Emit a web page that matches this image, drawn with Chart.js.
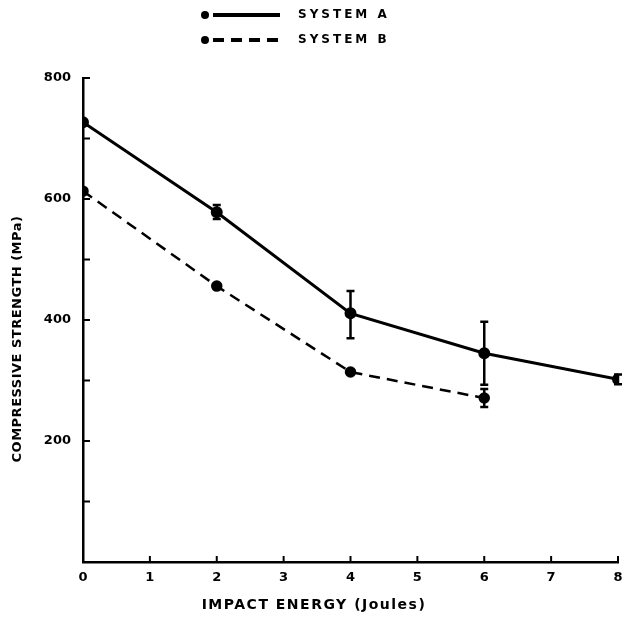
<!DOCTYPE html>
<html>
<head>
<meta charset="utf-8">
<script src="https://cdn.jsdelivr.net/npm/chart.js@4/dist/chart.umd.min.js"></script>
<style>
  body { margin: 0; background: #fff; }
  #wrap { width: 622px; height: 618px; }
</style>
</head>
<body>
<div id="wrap"><canvas id="myChart" width="622" height="618"></canvas></div>
<script>
const energy = [0, 2, 4, 6, 8];
const systemA = [727, 578, 411, 345, 302];
const systemB = [613, 456, 314, 271];
// error bar ends (low / high), null where no bar
const systemALow = [null, 567, 370, 293, 294];
const systemAHigh = [null, 590, 448, 397, 310];
const systemBLow = [null, null, null, 256];
const systemBHigh = [null, null, null, 286];
const yTickLabels = [200, 400, 600, 800];
const xTitle = 'IMPACT ENERGY (Joules)';
const yTitle = 'COMPRESSIVE STRENGTH (MPa)';

const FONT = '"DejaVu Sans", sans-serif';

const toPoints = (ys) => ys.map((y, i) => ({ x: energy[i], y }));

const drawExtras = {
    id: 'drawExtras',
    afterDatasetsDraw(chart) {
        const { ctx, scales: { x, y }, chartArea } = chart;
        ctx.save();
        ctx.strokeStyle = '#000';
        ctx.fillStyle = '#000';
        ctx.lineWidth = 2;
        // inward tick marks
        for (let v = 100; v <= 800; v += 100) {
            const py = y.getPixelForValue(v);
            ctx.beginPath();
            ctx.moveTo(chartArea.left, py);
            ctx.lineTo(chartArea.left + 7, py);
            ctx.stroke();
        }
        for (let v = 1; v <= 8; v++) {
            const px = x.getPixelForValue(v);
            ctx.beginPath();
            ctx.moveTo(px, chartArea.bottom);
            ctx.lineTo(px, chartArea.bottom - 6);
            ctx.stroke();
        }
        // error bars
        const bars = [[systemALow, systemAHigh], [systemBLow, systemBHigh]];
        ctx.lineWidth = 2.5;
        bars.forEach(([lo, hi]) => {
            lo.forEach((l, i) => {
                if (l === null) return;
                const px = x.getPixelForValue(energy[i]);
                const p1 = y.getPixelForValue(l);
                const p2 = y.getPixelForValue(hi[i]);
                ctx.beginPath();
                ctx.moveTo(px, p1); ctx.lineTo(px, p2);
                ctx.moveTo(px - 4, p1); ctx.lineTo(px + 4, p1);
                ctx.moveTo(px - 4, p2); ctx.lineTo(px + 4, p2);
                ctx.stroke();
            });
        });
        // axis titles
        ctx.font = 'bold 14px ' + FONT;
        ctx.letterSpacing = '1.5px';
        ctx.textAlign = 'center';
        ctx.textBaseline = 'middle';
        ctx.fillText(xTitle, 314, 605);
        ctx.save();
        ctx.translate(18, 339);
        ctx.rotate(-Math.PI / 2);
        ctx.font = 'bold 13px ' + FONT;
        ctx.letterSpacing = '0.5px';
        ctx.fillText(yTitle, 0, 0);
        ctx.restore();
        // legend
        const rows = [
            { label: 'SYSTEM A', y: 15, dash: [] },
            { label: 'SYSTEM B', y: 40, dash: [11, 7] },
        ];
        ctx.textAlign = 'left';
        rows.forEach(r => {
            ctx.beginPath();
            ctx.arc(205, r.y, 4, 0, Math.PI * 2);
            ctx.fill();
            ctx.setLineDash(r.dash);
            ctx.lineWidth = 4;
            ctx.beginPath();
            ctx.moveTo(213, r.y);
            ctx.lineTo(280, r.y);
            ctx.stroke();
            ctx.setLineDash([]);
            ctx.font = 'bold 12px ' + FONT;
            ctx.letterSpacing = '3px';
            ctx.fillText(r.label, 298, r.y);
        });
        ctx.restore();
    }
};

new Chart(document.querySelector('#myChart'), {
    type: 'line',
    data: {
        datasets: [
            {
                label: 'SYSTEM A',
                data: toPoints(systemA),
                borderColor: '#000',
                backgroundColor: '#000',
                borderWidth: 3,
                pointRadius: 4.5,
                tension: 0,
            },
            {
                label: 'SYSTEM B',
                data: toPoints(systemB),
                borderColor: '#000',
                backgroundColor: '#000',
                borderWidth: 2.5,
                borderDash: [11, 7],
                pointRadius: 4.5,
                tension: 0,
            },
        ],
    },
    options: {
        responsive: false,
        animation: false,
        layout: { autoPadding: false, padding: { top: 78, left: 0, right: 4, bottom: 0 } },
        scales: {
            x: {
                type: 'linear',
                min: 0,
                max: 8,
                grid: { display: false, drawTicks: false },
                border: { display: true, color: '#000', width: 2.5 },
                ticks: {
                    stepSize: 1,
                    padding: 8,
                    color: '#000',
                    font: { family: FONT, size: 13, weight: 'bold' },
                },
                afterFit(scale) {
                    scale.height = 56;
                    scale.paddingLeft = 0;
                    scale.paddingRight = 0;
                },
            },
            y: {
                min: 0,
                max: 800,
                grid: { display: false, drawTicks: false },
                border: { display: true, color: '#000', width: 2.5 },
                ticks: {
                    stepSize: 100,
                    padding: 12,
                    color: '#000',
                    font: { family: FONT, size: 13, weight: 'bold' },
                    callback: (v) => yTickLabels.includes(v) ? v : '',
                },
                afterFit(scale) {
                    scale.width = 83;
                    scale.paddingTop = 0;
                    scale.paddingBottom = 0;
                },
            },
        },
        plugins: {
            legend: { display: false },
            tooltip: { enabled: false },
        },
    },
    plugins: [drawExtras],
});
</script>
</body>
</html>
